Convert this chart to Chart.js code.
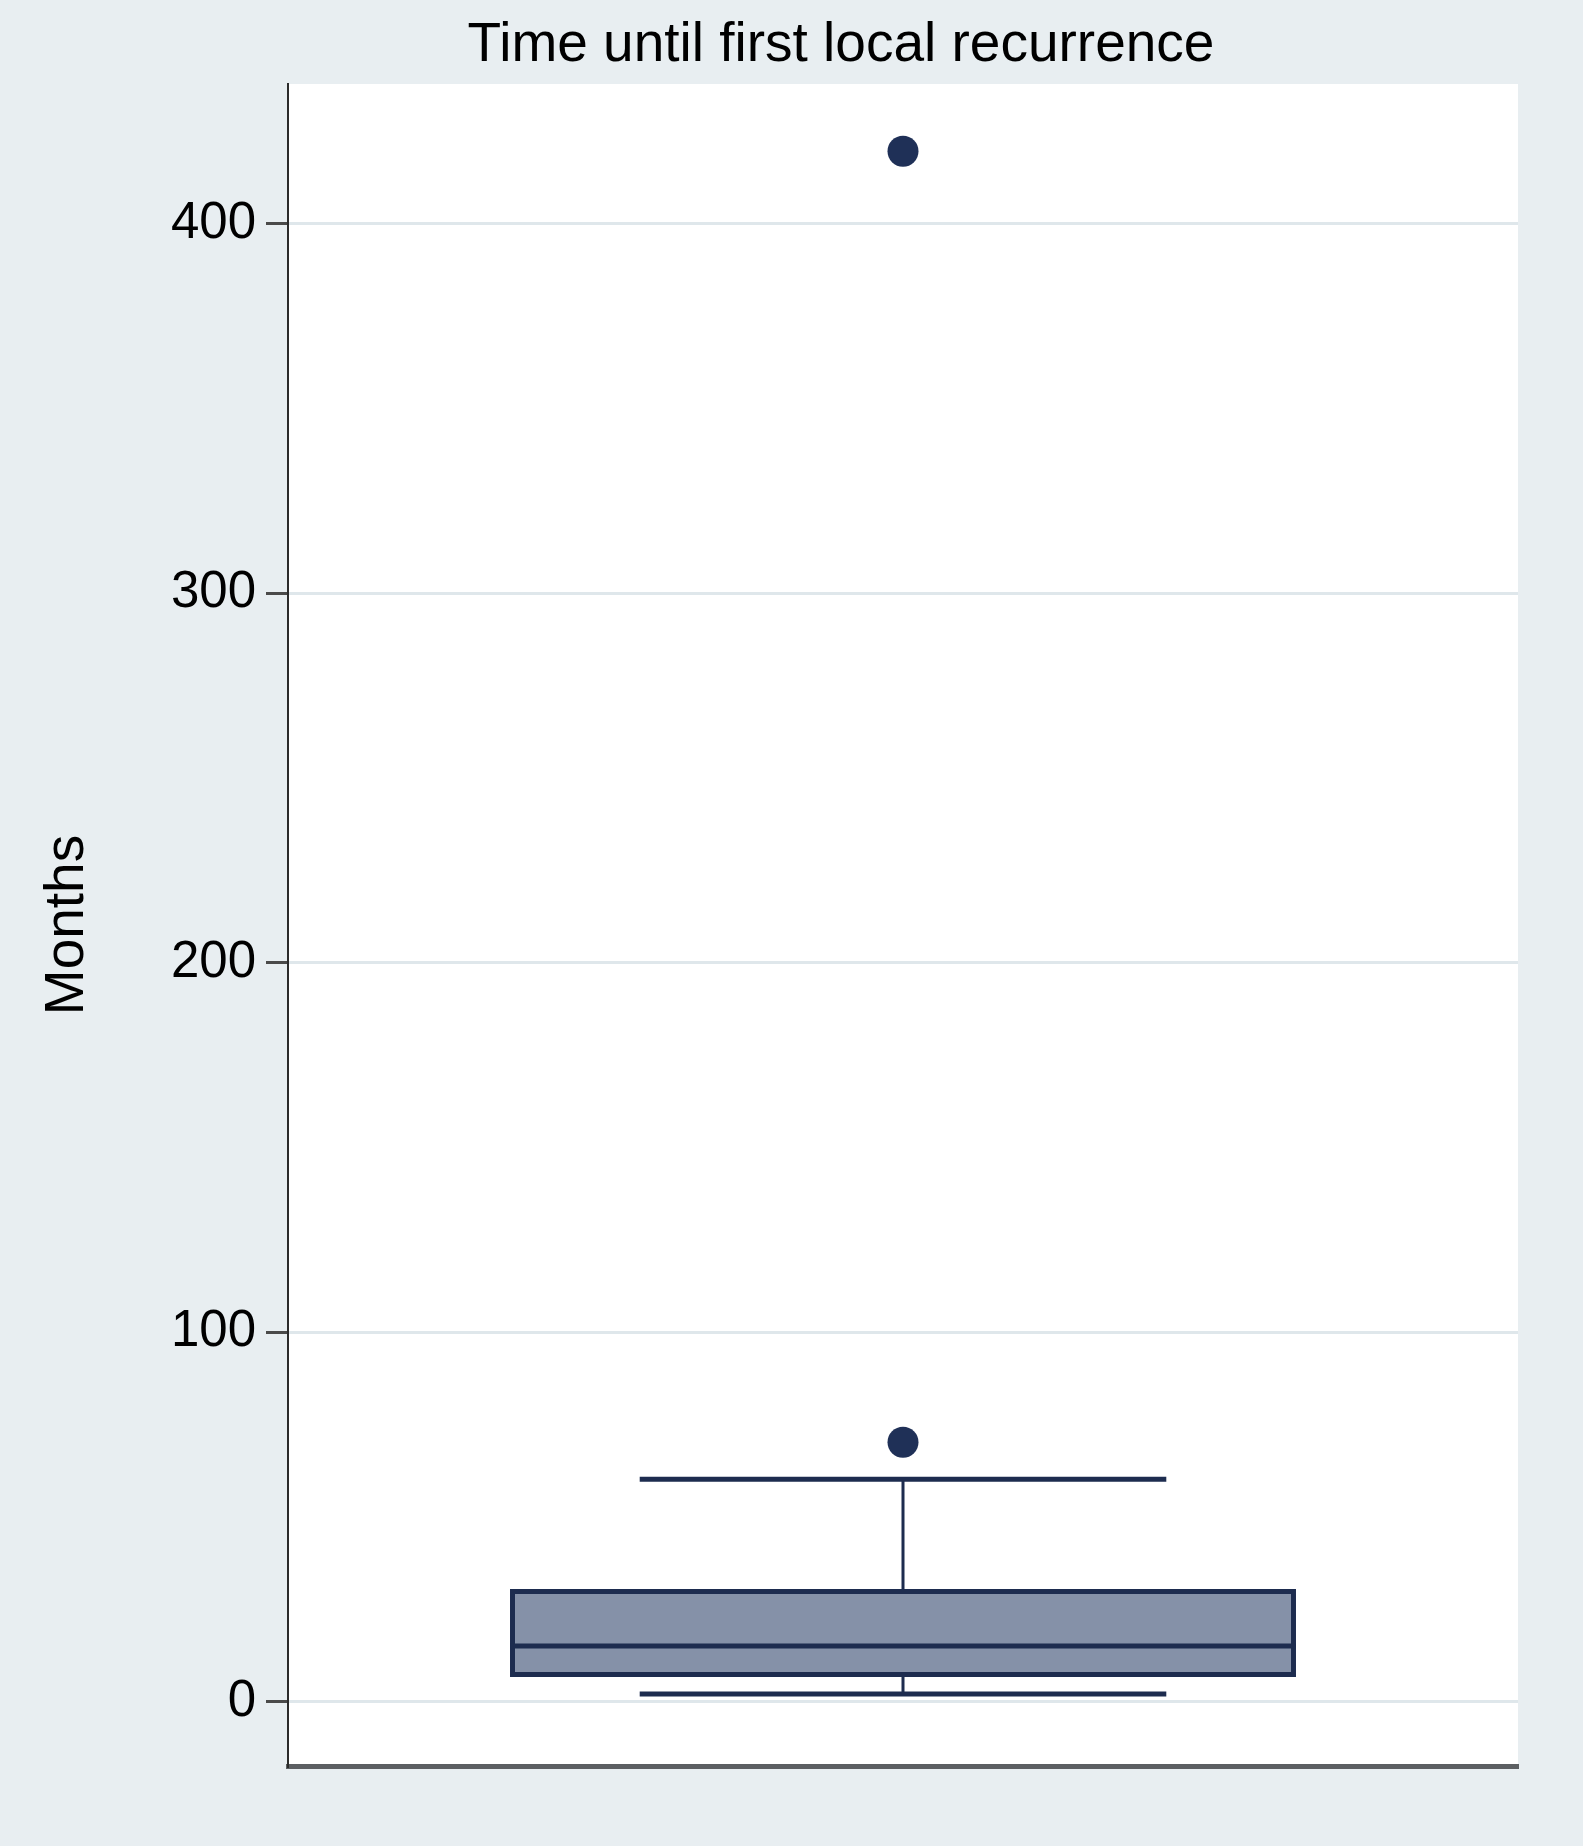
<!DOCTYPE html>
<html>
<head>
<meta charset="utf-8">
<title>Time until first local recurrence</title>
<script src="https://cdn.jsdelivr.net/npm/chart.js@4.4.1/dist/chart.umd.min.js"></script>
<style>
  html, body { margin: 0; padding: 0; background: #e8eef1; }
  #wrap { width: 1583px; height: 1846px; }
</style>
</head>
<body>
<div id="wrap"><canvas id="boxChart"></canvas></div>
<script>
// box plot summary, months
const categories = ['Time until first local recurrence'];
const lowerWhisker = [2.1];
const quartile1 = [6.7];
const medians = [15.1];
const quartile3 = [30.5];
const upperWhisker = [60.2];
const outliers = [70.2, 419.6];
const tickValues = [0, 100, 200, 300, 400];

const dark = '#1d2c4f';

Chart.defaults.font.family = '"Liberation Sans", Arial, Helvetica, sans-serif';
Chart.defaults.color = '#000';

// white plot region
const plotBackground = {
  id: 'plotBackground',
  beforeDraw(chart) {
    const { ctx, chartArea: a } = chart;
    ctx.save();
    ctx.fillStyle = '#ffffff';
    ctx.fillRect(a.left, a.top, a.right - a.left, a.bottom - a.top);
    ctx.restore();
  }
};

// whiskers + median, positioned with the chart's scales
const boxParts = {
  id: 'boxParts',
  beforeDatasetsDraw(chart) {
    const { ctx, scales: { x, y } } = chart;
    const bars = chart.getDatasetMeta(0).data;
    ctx.save();
    ctx.strokeStyle = dark;
    categories.forEach((c, i) => {
      const cx = x.getPixelForValue(i);
      const half = bars[i].width * 0.335;
      // stems
      ctx.lineWidth = 3;
      ctx.beginPath();
      ctx.moveTo(cx, y.getPixelForValue(quartile3[i]));
      ctx.lineTo(cx, y.getPixelForValue(upperWhisker[i]));
      ctx.moveTo(cx, y.getPixelForValue(quartile1[i]));
      ctx.lineTo(cx, y.getPixelForValue(lowerWhisker[i]));
      ctx.stroke();
      // caps
      ctx.lineWidth = 5;
      ctx.beginPath();
      ctx.moveTo(cx - half, y.getPixelForValue(upperWhisker[i]));
      ctx.lineTo(cx + half, y.getPixelForValue(upperWhisker[i]));
      ctx.moveTo(cx - half, y.getPixelForValue(lowerWhisker[i]));
      ctx.lineTo(cx + half, y.getPixelForValue(lowerWhisker[i]));
      ctx.stroke();
    });
    ctx.restore();
  },
  afterDatasetsDraw(chart) {
    const { ctx, scales: { x, y } } = chart;
    const bars = chart.getDatasetMeta(0).data;
    ctx.save();
    ctx.strokeStyle = dark;
    ctx.lineWidth = 5;
    categories.forEach((c, i) => {
      const b = bars[i];
      const my = y.getPixelForValue(medians[i]);
      ctx.beginPath();
      ctx.moveTo(b.x - b.width / 2, my);
      ctx.lineTo(b.x + b.width / 2, my);
      ctx.stroke();
    });
    ctx.restore();
  }
};

const ctx = document.getElementById('boxChart').getContext('2d');
new Chart(ctx, {
  type: 'bar',
  data: {
    labels: categories,
    datasets: [{
      label: 'IQR',
      data: categories.map((c, i) => [quartile1[i], quartile3[i]]),
      backgroundColor: '#8591a8',
      borderColor: dark,
      borderWidth: 5,
      borderSkipped: false,
      barPercentage: 0.639,
      categoryPercentage: 1
    }, {
      type: 'line',
      label: 'Outliers',
      data: outliers.map(v => ({ x: categories[0], y: v })),
      showLine: false,
      pointRadius: 15.5,
      pointBorderWidth: 0,
      pointBackgroundColor: '#1f3057',
      pointBorderColor: '#1f3057'
    }]
  },
  options: {
    responsive: true,
    maintainAspectRatio: false,
    animation: false,
    // left padding keeps the title centred where the original has it
    layout: { padding: { left: 164, right: 65, top: 0, bottom: 0 } },
    plugins: {
      legend: { display: false },
      tooltip: { enabled: false },
      title: {
        display: true,
        text: 'Time until first local recurrence',
        color: '#000',
        font: { size: 55, weight: 'normal' },
        padding: { top: 13, bottom: 5 }
      }
    },
    scales: {
      x: {
        ticks: { display: false },
        grid: { display: true, drawOnChartArea: false, drawTicks: false },
        border: { display: true, color: '#5c5f62', width: 5 },
        afterFit(scale) { scale.height = 80; }
      },
      y: {
        min: -17.4,
        max: 437.8,
        afterBuildTicks(scale) { scale.ticks = tickValues.map(v => ({ value: v })); },
        ticks: { font: { size: 51 }, color: '#000', padding: 10 },
        grid: { color: '#dfe7eb', lineWidth: 3, tickLength: 22, tickColor: '#4a4a4a', tickWidth: 3 },
        border: { display: true, color: '#2b2b2b', width: 2 },
        title: {
          display: true,
          text: 'Months',
          color: '#000',
          font: { size: 55 },
          padding: { top: -129 }
        },
        afterFit(scale) { scale.width = 124; }
      }
    }
  },
  plugins: [plotBackground, boxParts]
});
</script>
</body>
</html>
